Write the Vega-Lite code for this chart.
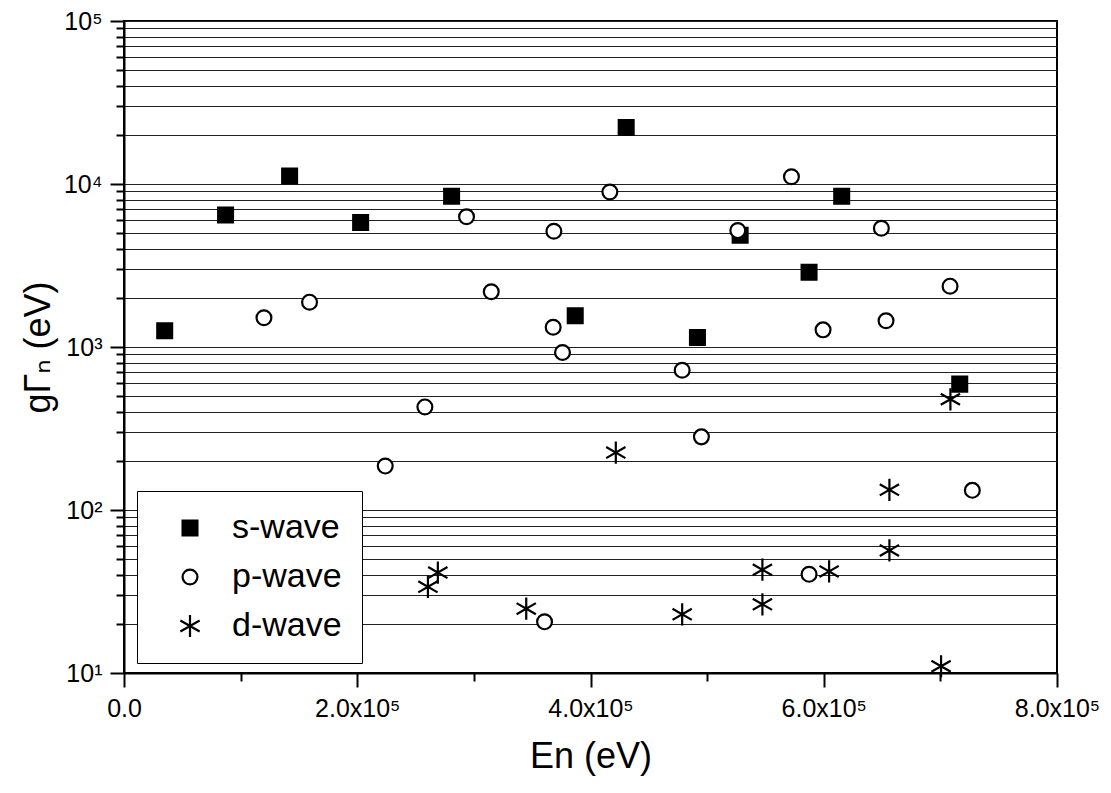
{
  "$schema": "https://vega.github.io/schema/vega-lite/v6.json",
  "width": 933,
  "height": 652,
  "autosize": {"type": "none"},
  "padding": {"left": 124, "top": 21, "right": 54, "bottom": 120},
  "background": "white",
  "config": {
    "view": {"stroke": "black", "strokeWidth": 2},
    "font": "Liberation Sans, DejaVu Sans",
    "axis": {
      "domainColor": "black", "domainWidth": 2,
      "tickColor": "black", "tickWidth": 2,
      "labelColor": "black", "titleColor": "black",
      "labelFont": "Liberation Sans, DejaVu Sans", "titleFont": "Liberation Sans, DejaVu Sans",
      "labelFontSize": 25, "titleFontSize": 36, "titleFontWeight": "normal"
    }
  },
  "data": {
    "values": [
      {"E": 34900, "g": 1259, "wave": "s-wave"},
      {"E": 87100, "g": 6457, "wave": "s-wave"},
      {"E": 142000, "g": 11200, "wave": "s-wave"},
      {"E": 202900, "g": 5797, "wave": "s-wave"},
      {"E": 280900, "g": 8400, "wave": "s-wave"},
      {"E": 386900, "g": 1556, "wave": "s-wave"},
      {"E": 430600, "g": 22200, "wave": "s-wave"},
      {"E": 491700, "g": 1143, "wave": "s-wave"},
      {"E": 528300, "g": 4842, "wave": "s-wave"},
      {"E": 587400, "g": 2872, "wave": "s-wave"},
      {"E": 615400, "g": 8400, "wave": "s-wave"},
      {"E": 716600, "g": 592, "wave": "s-wave"},
      {"E": 120000, "g": 1511, "wave": "p-wave"},
      {"E": 159100, "g": 1884, "wave": "p-wave"},
      {"E": 224000, "g": 186, "wave": "p-wave"},
      {"E": 258000, "g": 429, "wave": "p-wave"},
      {"E": 293700, "g": 6300, "wave": "p-wave"},
      {"E": 314900, "g": 2183, "wave": "p-wave"},
      {"E": 360600, "g": 20.6, "wave": "p-wave"},
      {"E": 368000, "g": 1321, "wave": "p-wave"},
      {"E": 368600, "g": 5130, "wave": "p-wave"},
      {"E": 376000, "g": 926, "wave": "p-wave"},
      {"E": 416600, "g": 8935, "wave": "p-wave"},
      {"E": 478600, "g": 720, "wave": "p-wave"},
      {"E": 495100, "g": 281, "wave": "p-wave"},
      {"E": 526300, "g": 5180, "wave": "p-wave"},
      {"E": 572300, "g": 11080, "wave": "p-wave"},
      {"E": 587400, "g": 40.3, "wave": "p-wave"},
      {"E": 599400, "g": 1274, "wave": "p-wave"},
      {"E": 649400, "g": 5350, "wave": "p-wave"},
      {"E": 653400, "g": 1449, "wave": "p-wave"},
      {"E": 708300, "g": 2361, "wave": "p-wave"},
      {"E": 727400, "g": 132, "wave": "p-wave"},
      {"E": 260600, "g": 33.8, "wave": "d-wave"},
      {"E": 269100, "g": 41.3, "wave": "d-wave"},
      {"E": 344900, "g": 24.8, "wave": "d-wave"},
      {"E": 421700, "g": 225, "wave": "d-wave"},
      {"E": 478600, "g": 22.9, "wave": "d-wave"},
      {"E": 547400, "g": 43, "wave": "d-wave"},
      {"E": 547400, "g": 26.4, "wave": "d-wave"},
      {"E": 604600, "g": 42, "wave": "d-wave"},
      {"E": 656300, "g": 133, "wave": "d-wave"},
      {"E": 656300, "g": 56.5, "wave": "d-wave"},
      {"E": 700600, "g": 11.0, "wave": "d-wave"},
      {"E": 708600, "g": 478, "wave": "d-wave"}
    ]
  },
  "mark": {"type": "point", "filled": true, "strokeWidth": 2.2, "opacity": 1, "strokeOpacity": 1, "fillOpacity": 1, "size": 220, "clip": false},
  "encoding": {
    "x": {
      "field": "E", "type": "quantitative",
      "scale": {"domain": [0, 800000], "nice": false, "zero": false},
      "axis": {
        "title": "En (eV)",
        "values": [0, 100000, 200000, 300000, 400000, 500000, 600000, 700000, 800000],
        "labelExpr": "datum.value % 200000 == 0 ? (datum.value == 0 ? '0.0' : format(datum.value/100000, '.1f') + 'x10⁵') : ''",
        "tickSize": {"condition": {"test": "datum.value % 200000 == 0", "value": 14}, "value": 8},
        "labelPadding": 9,
        "labelFlush": false,
        "labelOverlap": false,
        "labelBound": false,
        "grid": false,
        "titlePadding": 18
      }
    },
    "y": {
      "field": "g", "type": "quantitative",
      "scale": {"type": "log", "domain": [10, 100000], "nice": false},
      "axis": {
        "title": "gΓₙ (eV)",
        "values": [10,20,30,40,50,60,70,80,90,100,200,300,400,500,600,700,800,900,1000,2000,3000,4000,5000,6000,7000,8000,9000,10000,20000,30000,40000,50000,60000,70000,80000,90000,100000],
        "labelExpr": "datum.value==10?'10¹':datum.value==100?'10²':datum.value==1000?'10³':datum.value==10000?'10⁴':datum.value==100000?'10⁵':''",
        "tickSize": {"condition": {"test": "indexof([10,100,1000,10000,100000], datum.value) >= 0", "value": 14}, "value": 8},
        "labelPadding": 8,
        "labelOverlap": false,
        "labelFlush": false,
        "labelBound": false,
        "grid": true,
        "gridColor": "#222",
        "gridWidth": 1,
        "titlePadding": 6
      }
    },
    "shape": {
      "field": "wave", "type": "nominal",
      "scale": {"domain": ["s-wave", "p-wave", "d-wave"], "range": ["square", "circle", "M0,-1.5L0,1.5M-1.3,-0.75L1.3,0.75M-1.3,0.75L1.3,-0.75"]},
      "legend": {
        "title": null,
        "orient": "none",
        "legendX": 13,
        "legendY": 470,
        "strokeColor": "black",
        "fillColor": "white",
        "padding": 20,
        "labelFont": "Liberation Sans",
        "labelFontSize": 34,
        "labelColor": "black",
        "labelOffset": 25,
        "rowPadding": 15,
        "symbolOffset": 16,
        "symbolSize": 220,
        "symbolStrokeWidth": 2.2,
        "encode": {
          "legend": {"update": {"strokeWidth": {"value": 2}}}
        }
      }
    },
    "fill": {
      "field": "wave", "type": "nominal",
      "scale": {"domain": ["s-wave", "p-wave", "d-wave"], "range": ["black", "white", "white"]}
    },
    "stroke": {
      "field": "wave", "type": "nominal",
      "scale": {"domain": ["s-wave", "p-wave", "d-wave"], "range": ["black", "black", "black"]}
    }
  }
}
